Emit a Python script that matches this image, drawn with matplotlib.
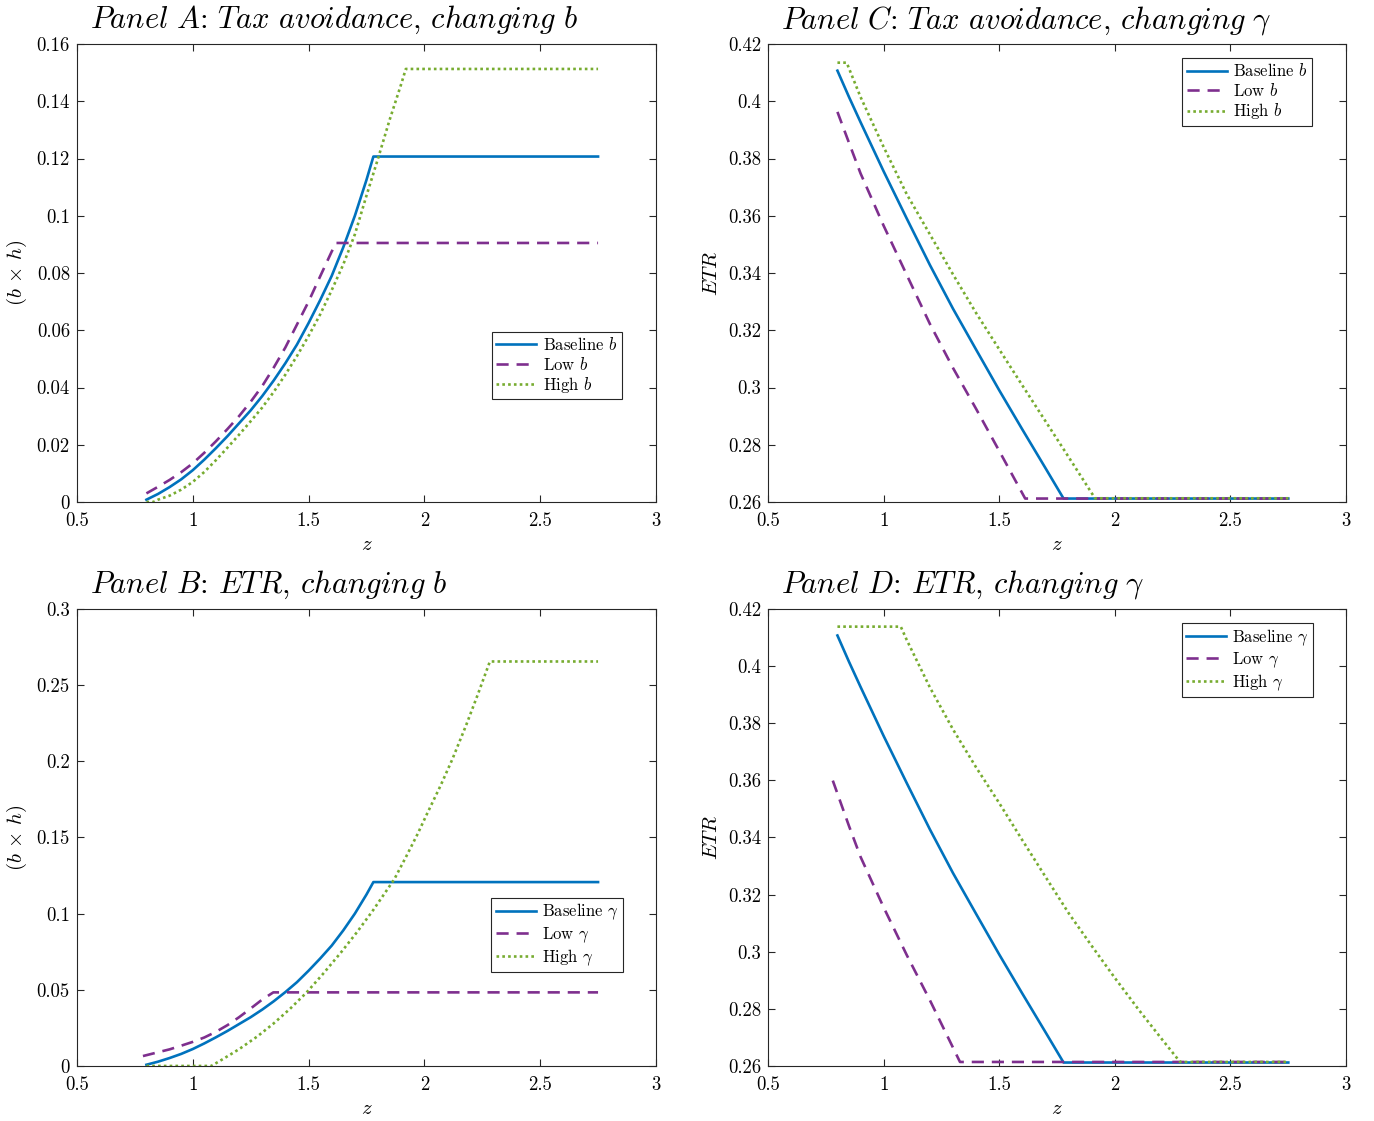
import matplotlib

matplotlib.use("Agg")

import matplotlib.pyplot as plt
from matplotlib.ticker import FuncFormatter

plt.rcParams["font.family"] = "serif"
plt.rcParams["font.serif"] = ["cmr10"]
plt.rcParams["mathtext.fontset"] = "cm"
plt.rcParams["axes.formatter.use_mathtext"] = True

BLUE = "#0072BD"
PURPLE = "#7E2F8E"
GREEN = "#77AC30"

# --- avoidance (b x h), baseline, shared by panels A and B ---
z_base_bh = [0.80, 0.85, 0.90, 0.95, 1.00, 1.05, 1.10, 1.15, 1.20, 1.25, 1.30, 1.35,
             1.40, 1.45, 1.50, 1.55, 1.60, 1.65, 1.70, 1.75, 1.78, 2.75]
base_bh = [0.0008, 0.0028, 0.0052, 0.0079, 0.0111, 0.0148, 0.0188, 0.023, 0.0275, 0.032,
           0.037, 0.0425, 0.0485, 0.055, 0.0625, 0.0705, 0.079, 0.089, 0.100, 0.1125,
           0.1207, 0.1207]

# panel A: low / high b
z_lowb_bh = [0.80, 0.85, 0.90, 0.95, 1.00, 1.05, 1.10, 1.15, 1.20, 1.25, 1.30, 1.35,
             1.40, 1.45, 1.50, 1.55, 1.60, 1.62, 2.75]
lowb_bh = [0.003, 0.0053, 0.0077, 0.0104, 0.0135, 0.0172, 0.0212, 0.0255, 0.030, 0.035,
           0.0405, 0.047, 0.054, 0.062, 0.070, 0.0788, 0.0875, 0.0905, 0.0905]
z_highb_bh = [0.80, 0.83, 0.85, 0.90, 0.95, 1.00, 1.05, 1.10, 1.15, 1.20, 1.25, 1.30,
              1.35, 1.40, 1.45, 1.50, 1.55, 1.60, 1.65, 1.70, 1.75, 1.80, 1.85, 1.90,
              1.92, 2.75]
highb_bh = [0.0, 0.0, 0.0008, 0.0022, 0.0043, 0.007, 0.0105, 0.0146, 0.019, 0.0235,
            0.0282, 0.033, 0.0385, 0.0445, 0.051, 0.058, 0.0655, 0.074, 0.083, 0.0935,
            0.107, 0.120, 0.1335, 0.146, 0.1513, 0.1513]

# panel B: low / high gamma
z_lowg_bh = [0.785, 0.85, 0.90, 0.95, 1.00, 1.05, 1.10, 1.15, 1.20, 1.25, 1.30, 1.348, 2.75]
lowg_bh = [0.0065, 0.009, 0.0109, 0.0133, 0.0158, 0.0187, 0.0224, 0.0268, 0.032, 0.0377,
           0.0436, 0.0483, 0.0483]
z_highg_bh = [0.80, 1.08, 1.13, 1.20, 1.28, 1.35, 1.42, 1.49, 1.56, 1.64, 1.71, 1.78,
              1.87, 1.92, 1.97, 2.01, 2.07, 2.12, 2.18, 2.23, 2.283, 2.75]
highg_bh = [0.0, 0.0, 0.0045, 0.011, 0.0195, 0.028, 0.0375, 0.048, 0.060, 0.0745, 0.088,
            0.1025, 0.1225, 0.137, 0.152, 0.165, 0.184, 0.201, 0.2235, 0.2435, 0.2655,
            0.2655]

# --- ETR, baseline, shared by panels C and D ---
z_base_etr = [0.80, 0.85, 0.90, 1.00, 1.10, 1.20, 1.30, 1.40, 1.50, 1.60, 1.70, 1.778, 2.75]
base_etr = [0.4107, 0.4015, 0.3927, 0.3755, 0.3590, 0.3428, 0.3275, 0.3132, 0.2990,
            0.2853, 0.2718, 0.2612, 0.2612]

# panel C: low / high b
z_lowb_etr = [0.80, 0.85, 0.90, 1.00, 1.10, 1.20, 1.30, 1.40, 1.50, 1.612, 2.75]
lowb_etr = [0.3963, 0.3855, 0.3748, 0.3565, 0.3393, 0.3222, 0.3068, 0.2925, 0.2778,
            0.2612, 0.2612]
z_highb_etr = [0.80, 0.84, 0.90, 1.00, 1.10, 1.20, 1.30, 1.40, 1.50, 1.60, 1.70, 1.80,
               1.914, 2.75]
highb_etr = [0.4135, 0.4135, 0.4015, 0.384, 0.3675, 0.3535, 0.3395, 0.326, 0.3133,
             0.3007, 0.2882, 0.2757, 0.2613, 0.2613]

# panel D: low / high gamma
z_lowg_etr = [0.78, 0.85, 0.90, 1.00, 1.10, 1.20, 1.330, 2.75]
lowg_etr = [0.3599, 0.344, 0.3332, 0.3155, 0.2988, 0.2830, 0.2614, 0.2614]
z_highg_etr = [0.80, 1.074, 1.10, 1.20, 1.30, 1.40, 1.50, 1.60, 1.70, 1.80, 1.90, 2.00,
               2.10, 2.20, 2.282, 2.75]
highg_etr = [0.4138, 0.4138, 0.4091, 0.3925, 0.3778, 0.3645, 0.352, 0.339, 0.3262,
             0.3135, 0.302, 0.2908, 0.280, 0.2697, 0.2614, 0.2614]

x_ticks = [0.5, 1, 1.5, 2, 2.5, 3]
yticks_a = [0, 0.02, 0.04, 0.06, 0.08, 0.1, 0.12, 0.14, 0.16]
yticks_b = [0, 0.05, 0.1, 0.15, 0.2, 0.25, 0.3]
yticks_etr = [0.26, 0.28, 0.3, 0.32, 0.34, 0.36, 0.38, 0.4, 0.42]

labels_b = [r"Baseline $b$", r"Low $b$", r"High $b$"]
labels_g = [r"Baseline $\gamma$", r"Low $\gamma$", r"High $\gamma$"]

AX_COLOR = "#262626"


def style_axes(ax, yticks, ylabel):
    ax.set_xlim(0.5, 3)
    ax.set_ylim(yticks[0], yticks[-1])
    ax.set_xticks(x_ticks)
    ax.set_yticks(yticks)
    fmt = FuncFormatter(lambda v, _: f"{v:g}")
    ax.xaxis.set_major_formatter(fmt)
    ax.yaxis.set_major_formatter(fmt)
    ax.tick_params(direction="in", top=True, right=True, length=5, width=0.8,
                   colors=AX_COLOR, labelcolor="black", labelsize=13.5)
    ax.tick_params(axis="x", pad=7)
    ax.tick_params(axis="y", pad=5)
    for sp in ax.spines.values():
        sp.set_color(AX_COLOR)
        sp.set_linewidth(0.8)
    ax.set_xlabel(r"$z$", fontsize=15)
    ax.xaxis.set_label_coords(0.5, -0.075)
    ax.set_ylabel(ylabel, fontsize=15)
    ax.yaxis.set_label_coords(-0.082, 0.5)


def draw_panel(ax, base, low, high, labels, title, yticks, ylabel, legend_anchor):
    ax.plot(base[0], base[1], color=BLUE, lw=1.9, label=labels[0])
    ax.plot(low[0], low[1], color=PURPLE, lw=1.9, linestyle=(0, (4.6, 3.0)), label=labels[1])
    ax.plot(high[0], high[1], color=GREEN, lw=1.9, linestyle=(0, (1, 1.2)), label=labels[2])
    style_axes(ax, yticks, ylabel)
    ax.text(0.022, 1.035, title, transform=ax.transAxes, fontsize=22,
            ha="left", va="baseline")
    leg = ax.legend(loc="upper right", bbox_to_anchor=legend_anchor, fontsize=12,
                    frameon=True, fancybox=False, framealpha=1, edgecolor=AX_COLOR,
                    borderpad=0.25, handlelength=2.4, handletextpad=0.4,
                    labelspacing=0.15, borderaxespad=0)
    leg.get_frame().set_linewidth(0.8)


fig = plt.figure(figsize=(13.74, 11.21), dpi=100)
ax_a = fig.add_axes([0.056, 0.5522, 0.4214, 0.4085])
ax_c = fig.add_axes([0.559, 0.5522, 0.4207, 0.4085])
ax_b = fig.add_axes([0.056, 0.0491, 0.4214, 0.4077])
ax_d = fig.add_axes([0.559, 0.0491, 0.4207, 0.4077])

ylabel_bh = r"$(b\,\times\,h)$"
draw_panel(ax_a, (z_base_bh, base_bh), (z_lowb_bh, lowb_bh), (z_highb_bh, highb_bh),
           labels_b, r"$Panel\ A$: $Tax\ avoidance$, $changing\ b$",
           yticks_a, ylabel_bh, (0.941, 0.371))
draw_panel(ax_b, (z_base_bh, base_bh), (z_lowg_bh, lowg_bh), (z_highg_bh, highg_bh),
           labels_g, r"$Panel\ B$: $ETR$, $changing\ b$",
           yticks_b, ylabel_bh, (0.943, 0.368))
draw_panel(ax_c, (z_base_etr, base_etr), (z_lowb_etr, lowb_etr), (z_highb_etr, highb_etr),
           labels_b, r"$Panel\ C$: $Tax\ avoidance$, $changing\ \gamma$",
           yticks_etr, r"$ETR$", (0.941, 0.969))
draw_panel(ax_d, (z_base_etr, base_etr), (z_lowg_etr, lowg_etr), (z_highg_etr, highg_etr),
           labels_g, r"$Panel\ D$: $ETR$, $changing\ \gamma$",
           yticks_etr, r"$ETR$", (0.943, 0.969))

fig.savefig("out.png", dpi=100)
plt.close(fig)
